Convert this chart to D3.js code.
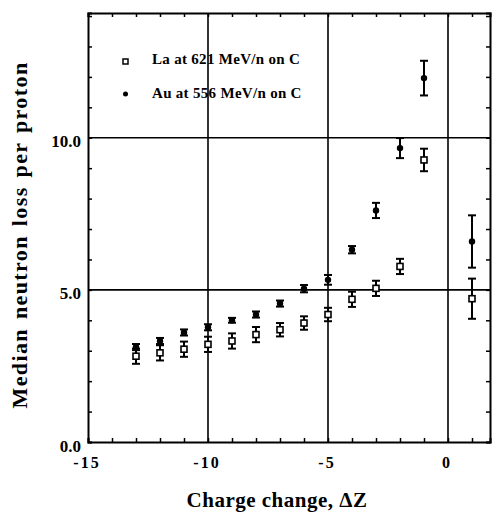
<!DOCTYPE html>
<html>
<head>
<meta charset="utf-8">
<script src="https://cdn.jsdelivr.net/npm/d3@7"></script>
<style>
  body { margin: 0; background: #fff; }
  svg { display: block; }
</style>
</head>
<body>
<script>
// data
const dzLa = [-13, -12, -11, -10, -9, -8, -7, -6, -5, -4, -3, -2, -1, 1]
const laMedian = [2.82, 2.93, 3.05, 3.21, 3.32, 3.53, 3.69, 3.91, 4.19, 4.69, 5.05, 5.77, 9.27, 4.71]
const laErr = [0.25, 0.25, 0.25, 0.25, 0.25, 0.25, 0.22, 0.22, 0.22, 0.25, 0.25, 0.25, 0.37, 0.66]

const dzAu = [-13, -12, -11, -10, -9, -8, -7, -6, -5, -4, -3, -2, -1, 1]
const auMedian = [3.12, 3.32, 3.6, 3.77, 4.0, 4.19, 4.55, 5.04, 5.33, 6.32, 7.61, 9.66, 11.96, 6.59]
const auErr = [0.1, 0.1, 0.1, 0.1, 0.08, 0.1, 0.1, 0.12, 0.16, 0.12, 0.25, 0.33, 0.57, 0.86]

const xTicks = [-15, -10, -5, 0]
const yTicks = [0, 5, 10]
const xGrid = [-10, -5, 0]
const yGrid = [5, 10]

const legendLabels = ['La at 621 MeV/n on C', 'Au at 556 MeV/n on C']

const W = 495, H = 512
const MARGIN = { LEFT: 88, RIGHT: 5, TOP: 13, BOTTOM: 70 }
const FONT = '"Liberation Serif", "Times New Roman", serif'

const svg = d3.select('body').append('svg')
  .attr('width', W)
  .attr('height', H)

const x = d3.scaleLinear().domain([-15, 1.75]).range([MARGIN.LEFT, W - MARGIN.RIGHT])
const y = d3.scaleLinear().domain([0, 14.1]).range([H - MARGIN.BOTTOM, MARGIN.TOP])

const x0 = x.range()[0], x1 = x.range()[1]
const y0 = y.range()[0], y1 = y.range()[1]

// grid lines
svg.append('g').selectAll('line')
  .data(xGrid).enter().append('line')
  .attr('x1', d => x(d)).attr('x2', d => x(d))
  .attr('y1', y1).attr('y2', y0)
  .attr('stroke', '#000').attr('stroke-width', 1.6)
svg.append('g').selectAll('line')
  .data(yGrid).enter().append('line')
  .attr('x1', x0).attr('x2', x1)
  .attr('y1', d => y(d)).attr('y2', d => y(d))
  .attr('stroke', '#000').attr('stroke-width', 1.6)

// axes with inward minor ticks
const xMinor = d3.range(-15, 2, 1)
const yMinor = d3.range(0, 14.1, 1)

svg.append('g')
  .attr('transform', `translate(0,${y0})`)
  .call(d3.axisBottom(x).tickValues(xMinor).tickSize(-4).tickFormat(''))
svg.append('g')
  .attr('transform', `translate(0,${y1})`)
  .call(d3.axisTop(x).tickValues(xMinor).tickSize(-4).tickFormat(''))
svg.append('g')
  .attr('transform', `translate(${x0},0)`)
  .call(d3.axisLeft(y).tickValues(yMinor).tickSize(-4).tickFormat(''))
svg.append('g')
  .attr('transform', `translate(${x1},0)`)
  .call(d3.axisRight(y).tickValues(yMinor).tickSize(-4).tickFormat(''))

svg.selectAll('.domain').attr('stroke', '#000').attr('stroke-width', 2)
svg.selectAll('.tick line').attr('stroke', '#000').attr('stroke-width', 1.5)

// tick labels
svg.append('g').selectAll('text')
  .data(xTicks).enter().append('text')
  .attr('x', d => x(d) - 1)
  .attr('y', y0 + 26)
  .attr('text-anchor', 'middle')
  .attr('font-family', FONT).attr('font-weight', 'bold').attr('font-size', 16)
  .attr('letter-spacing', 2)
  .text(d => d < 0 ? '-' + Math.abs(d) : d)

svg.append('g').selectAll('text')
  .data(yTicks).enter().append('text')
  .attr('x', x0 - 7)
  .attr('y', d => y(d) + 9.5)
  .attr('text-anchor', 'end')
  .attr('font-family', FONT).attr('font-weight', 'bold').attr('font-size', 17)
  .text(d => d.toFixed(1))

// axis titles
svg.append('text')
  .attr('x', 277).attr('y', 507)
  .attr('text-anchor', 'middle')
  .attr('font-family', FONT).attr('font-weight', 'bold').attr('font-size', 21)
  .attr('letter-spacing', 0.5)
  .text('Charge change, ΔZ')

svg.append('text')
  .attr('transform', `translate(27,235) rotate(-90)`)
  .attr('text-anchor', 'middle')
  .attr('font-family', FONT).attr('font-weight', 'bold').attr('font-size', 22)
  .attr('letter-spacing', 1.4)
  .attr('word-spacing', 2)
  .text('Median neutron loss per proton')

// error bars and markers
function drawSeries(xs, ys, es, filled) {
  const g = svg.append('g')
  const pts = xs.map((d, i) => ({ x: d, y: ys[i], e: es[i] }))
  g.selectAll('line.bar').data(pts).enter().append('line')
    .attr('x1', d => x(d.x)).attr('x2', d => x(d.x))
    .attr('y1', d => y(d.y - d.e)).attr('y2', d => y(d.y + d.e))
    .attr('stroke', '#000').attr('stroke-width', 2)
  ;['lo', 'hi'].forEach(k => {
    g.selectAll('line.cap-' + k).data(pts).enter().append('line')
      .attr('x1', d => x(d.x) - 4).attr('x2', d => x(d.x) + 4)
      .attr('y1', d => y(k === 'lo' ? d.y - d.e : d.y + d.e))
      .attr('y2', d => y(k === 'lo' ? d.y - d.e : d.y + d.e))
      .attr('stroke', '#000').attr('stroke-width', 2)
  })
  if (filled) {
    g.selectAll('circle').data(pts).enter().append('circle')
      .attr('cx', d => x(d.x)).attr('cy', d => y(d.y))
      .attr('r', 3.2).attr('fill', '#000')
  } else {
    g.selectAll('rect').data(pts).enter().append('rect')
      .attr('x', d => x(d.x) - 3).attr('y', d => y(d.y) - 3)
      .attr('width', 6).attr('height', 6)
      .attr('fill', '#fff').attr('stroke', '#000').attr('stroke-width', 1.6)
  }
}

drawSeries(dzLa, laMedian, laErr, false)
drawSeries(dzAu, auMedian, auErr, true)

// legend
const legend = svg.append('g')
legend.append('rect')
  .attr('x', 123).attr('y', 59).attr('width', 5).attr('height', 5)
  .attr('fill', '#fff').attr('stroke', '#000').attr('stroke-width', 1.5)
legend.append('circle')
  .attr('cx', 125.5).attr('cy', 94).attr('r', 2.5).attr('fill', '#000')
legendLabels.forEach((t, i) => {
  legend.append('text')
    .attr('x', 152).attr('y', 64 + i * 34)
    .attr('font-family', FONT).attr('font-weight', 'bold').attr('font-size', 15)
    .attr('letter-spacing', 0.3)
    .text(t)
})
</script>
</body>
</html>
